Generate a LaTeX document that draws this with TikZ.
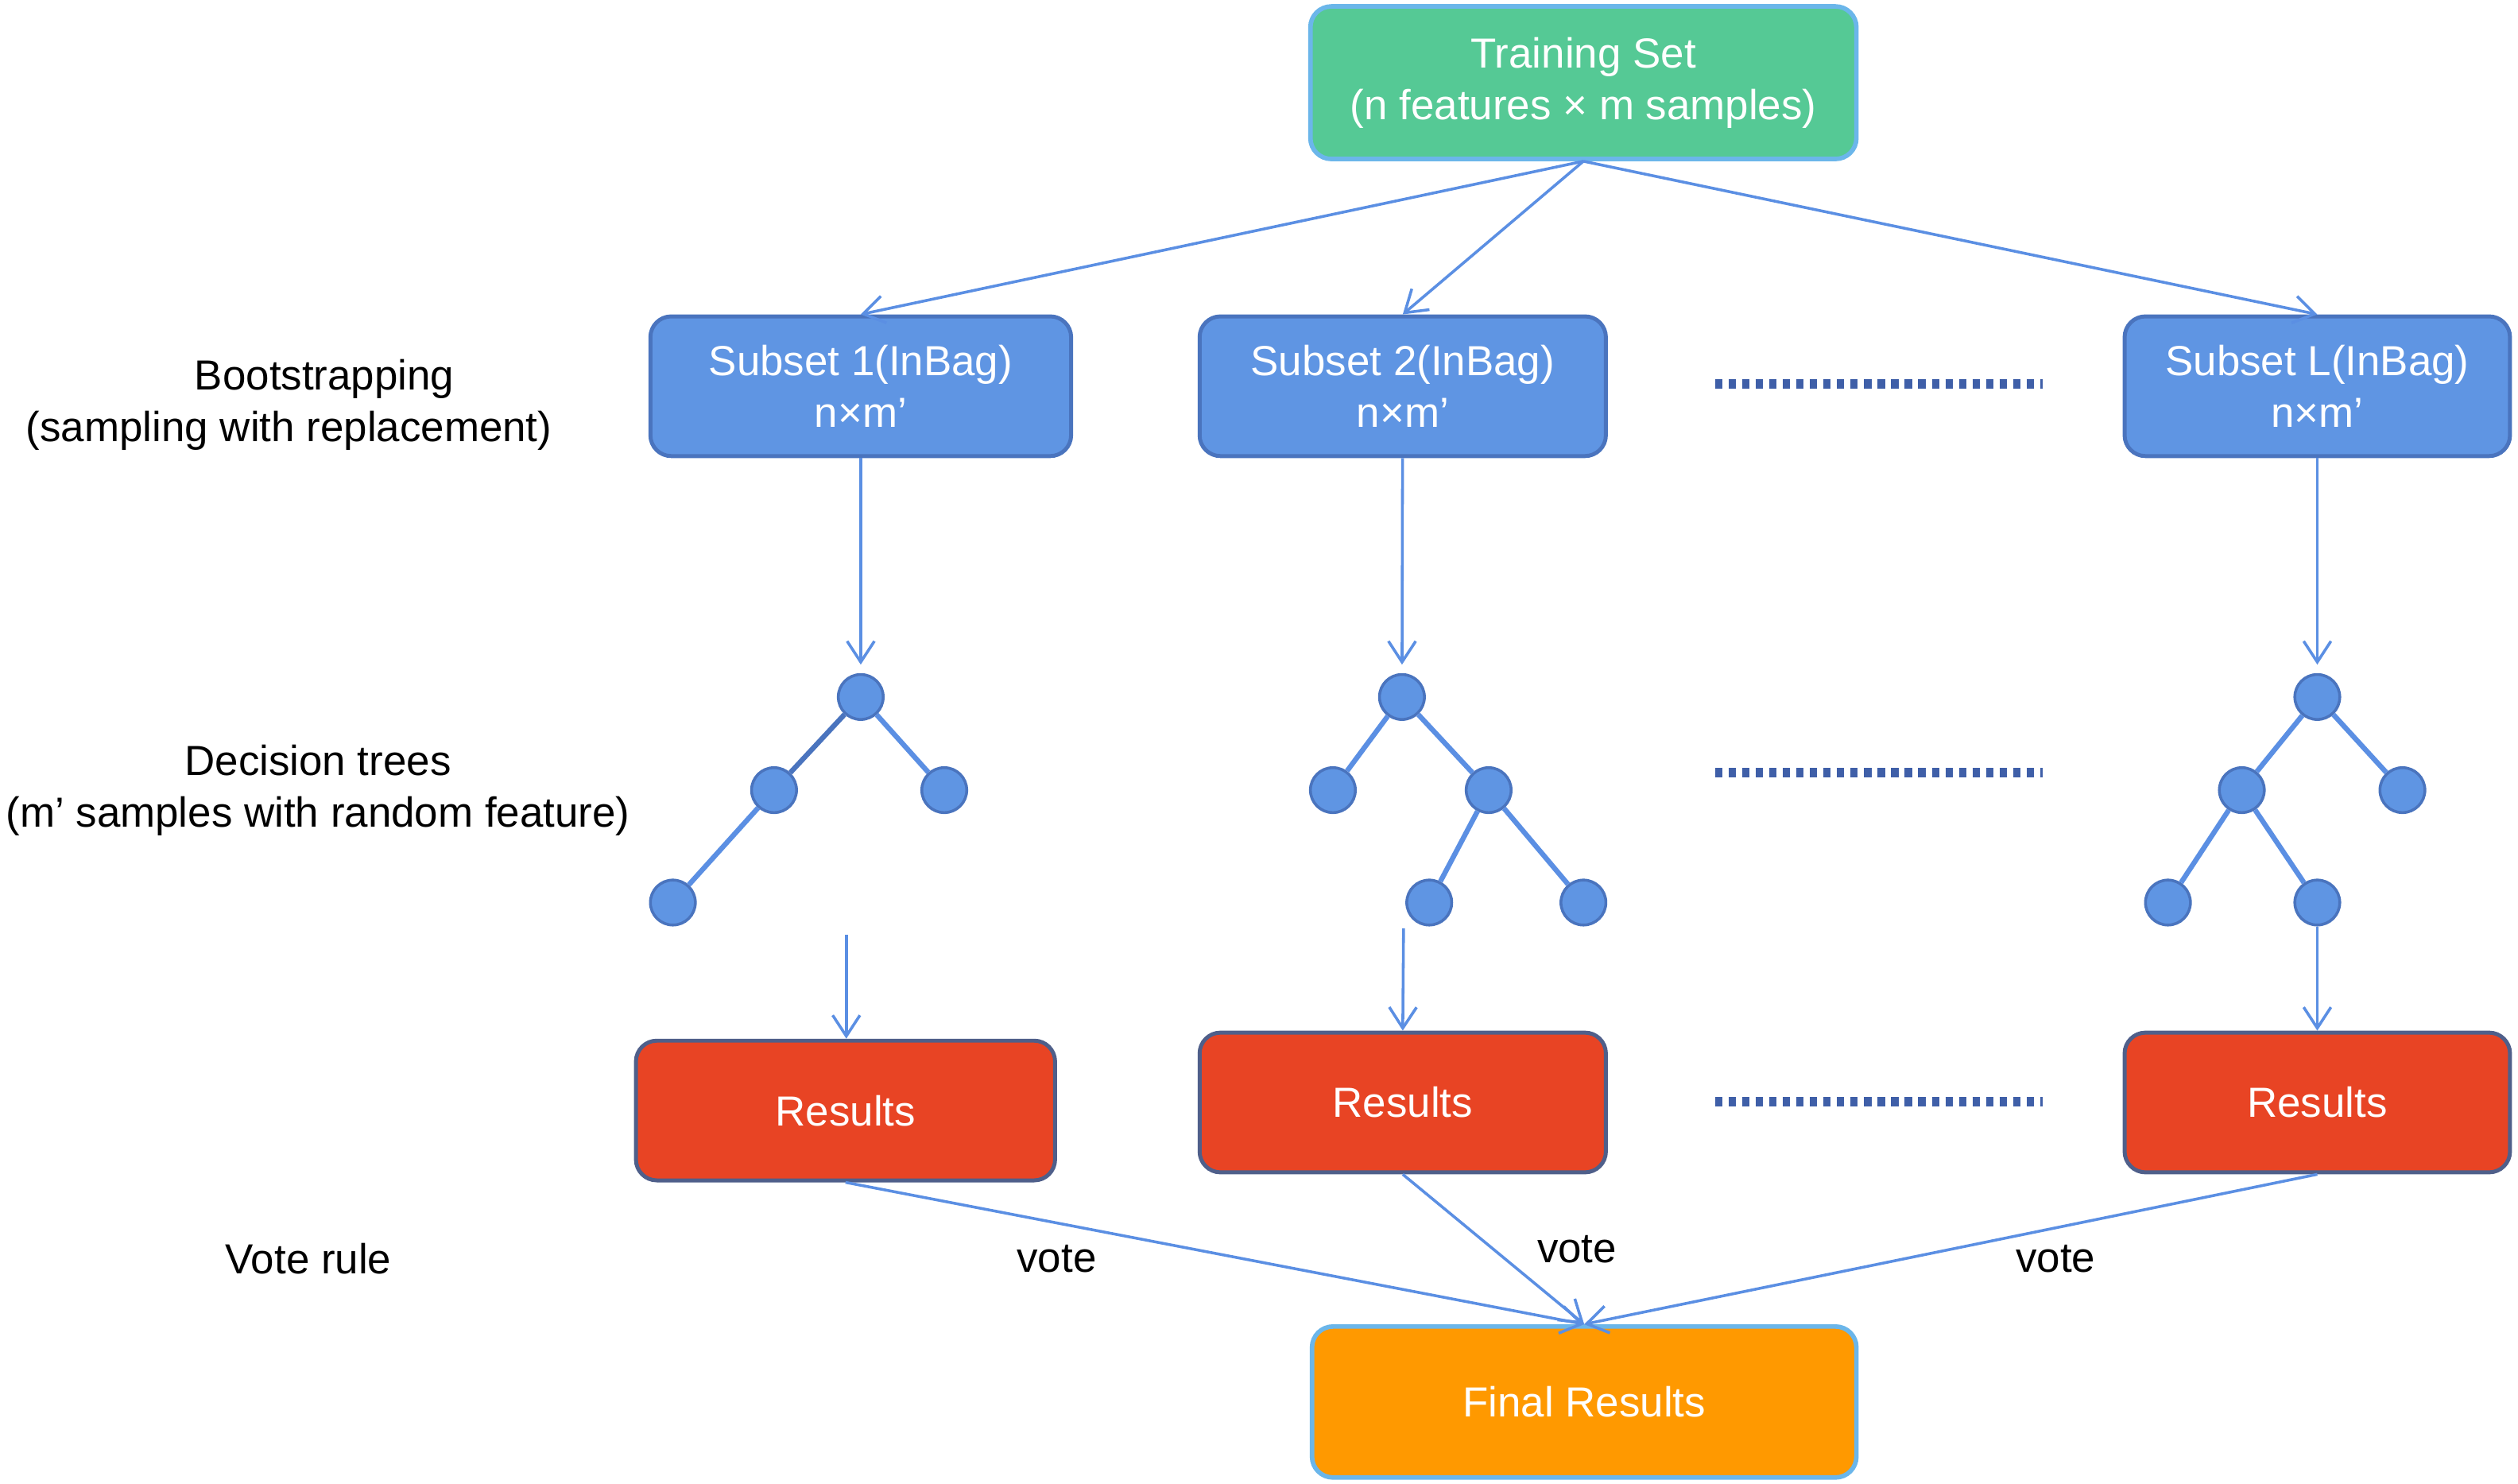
\documentclass[tikz,border=0pt]{standalone}
\usepackage{fontspec}
\setmainfont{Liberation Sans}
\usetikzlibrary{shapes,arrows,arrows.meta,positioning}
\definecolor{tsgreen}{HTML}{55C995}
\definecolor{subblue}{HTML}{5F95E3}
\definecolor{resred}{HTML}{E84424}
\definecolor{finorange}{HTML}{FF9900}
\definecolor{arrblue}{HTML}{5B8FE3}
\definecolor{dotblue}{HTML}{3F5FA8}
\definecolor{edgeblue}{HTML}{4A74BE}
\definecolor{lightedge}{HTML}{6BB6EA}
\definecolor{redline}{HTML}{4F5F8A}

\begin{document}
\begin{tikzpicture}[font=\fontsize{7.45}{9.1}\selectfont,
    boxstyle/.style={rectangle,rounded corners=1.3mm,text=white,align=center,minimum height=0.87cm},
    greenbox/.style={boxstyle,draw=lightedge,line width=0.8pt,fill=tsgreen,minimum width=3.4cm,minimum height=0.95cm},
    bluebox/.style={boxstyle,draw=edgeblue,line width=0.7pt,fill=subblue},
    redbox/.style={boxstyle,draw=redline,line width=0.7pt,fill=resred},
    orangebox/.style={boxstyle,draw=lightedge,line width=0.8pt,fill=finorange,minimum width=3.39cm,minimum height=0.94cm},
    leaf/.style={circle,draw=edgeblue,line width=0.5pt,fill=subblue,minimum size=0.28cm,inner sep=0pt},
    arr/.style={-{Straight Barb[length=1.3mm,width=1.7mm]},draw=arrblue,line width=0.5pt},
    twig/.style={draw=arrblue,line width=0.9pt},
    dotrow/.style={dotblue,line width=1.6pt,dash pattern=on 1.3pt off 1.1pt}]

       \useasboundingbox (0,0) rectangle (15.68,-9.24);

       \node [greenbox]  (0) at (9.86,-0.515) {Training Set\\(n features × m samples)};

       \node [bluebox,minimum width=2.62cm]  (s1) at (5.36,-2.405) {Subset 1(InBag)\\n×m’};
       \node [bluebox,minimum width=2.53cm]  (s2) at (8.735,-2.405) {Subset 2(InBag)\\n×m’};
       \node [bluebox,minimum width=2.40cm]  (sL) at (14.43,-2.405) {Subset L(InBag)\\n×m’};

       \node [leaf]  (a1) at (5.36,-4.34) {};
       \node [leaf]  (b1) at (4.82,-4.92) {};
       \node [leaf]  (c1) at (5.88,-4.92) {};
       \node [leaf]  (d1) at (4.19,-5.62) {};

       \node [leaf]  (a2) at (8.73,-4.34) {};
       \node [leaf]  (b2) at (8.30,-4.92) {};
       \node [leaf]  (c2) at (9.27,-4.92) {};
       \node [leaf]  (d2) at (8.90,-5.62) {};
       \node [leaf]  (e2) at (9.86,-5.62) {};

       \node [leaf]  (a3) at (14.43,-4.34) {};
       \node [leaf]  (b3) at (13.96,-4.92) {};
       \node [leaf]  (c3) at (14.96,-4.92) {};
       \node [leaf]  (d3) at (13.50,-5.62) {};
       \node [leaf]  (e3) at (14.43,-5.62) {};

       \node [redbox,minimum width=2.61cm]  (r1) at (5.265,-6.915) {Results};
       \node [redbox,minimum width=2.53cm]  (r2) at (8.735,-6.865) {Results};
       \node [redbox,minimum width=2.40cm]  (rL) at (14.43,-6.865) {Results};

       \node [orangebox]  (f) at (9.865,-8.73) {Final Results};

       \node (l1) at (2.02,-2.36) {Bootstrapping};
       \node (l2) at (1.80,-2.68) {(sampling with replacement)};
       \node [align=center]  (l3) at (1.98,-4.92) {Decision trees\\(m’ samples with random feature)};
       \node (l4) at (1.92,-7.84) {Vote rule};

       \node (v1) at (6.58,-7.84) {vote};
       \node (v2) at (9.82,-7.78) {vote};
       \node (v3) at (12.80,-7.84) {vote};

       \coordinate (t1) at (5.27,-5.82);
       \coordinate (t2) at (8.74,-5.78);

       \draw [arr] (0.south) -- (s1.north);
       \draw [arr] (0.south) -- (s2.north);
       \draw [arr] (0.south) -- (sL.north);

       \draw [arr,shorten >=1.5pt] (s1) -- (a1);
       \draw [arr,shorten >=1.5pt] (s2) -- (a2);
       \draw [arr,shorten >=1.5pt] (sL) -- (a3);

       \draw [twig,draw=edgeblue] (a1) -- (b1);
       \draw [twig] (a1) -- (c1);
       \draw [twig] (b1) -- (d1);
       \draw [twig] (a2) -- (b2);
       \draw [twig] (a2) -- (c2);
       \draw [twig] (c2) -- (d2);
       \draw [twig] (c2) -- (e2);
       \draw [twig] (a3) -- (b3);
       \draw [twig] (a3) -- (c3);
       \draw [twig] (b3) -- (d3);
       \draw [twig] (b3) -- (e3);

       \draw [arr] (t1) -- (t1 |- r1.north);
       \draw [arr] (t2) -- (r2.north);
       \draw [arr] (e3) -- (rL.north);

       \draw [arr] (r1.south) -- (f.north);
       \draw [arr] (r2.south) -- (f.north);
       \draw [arr] (rL.south) -- (f.north);

       \draw [dotrow] (10.68,-2.39) -- (12.72,-2.39);
       \draw [dotrow] (10.68,-4.81) -- (12.72,-4.81);
       \draw [dotrow] (10.68,-6.86) -- (12.72,-6.86);
\end{tikzpicture}
\end{document}
